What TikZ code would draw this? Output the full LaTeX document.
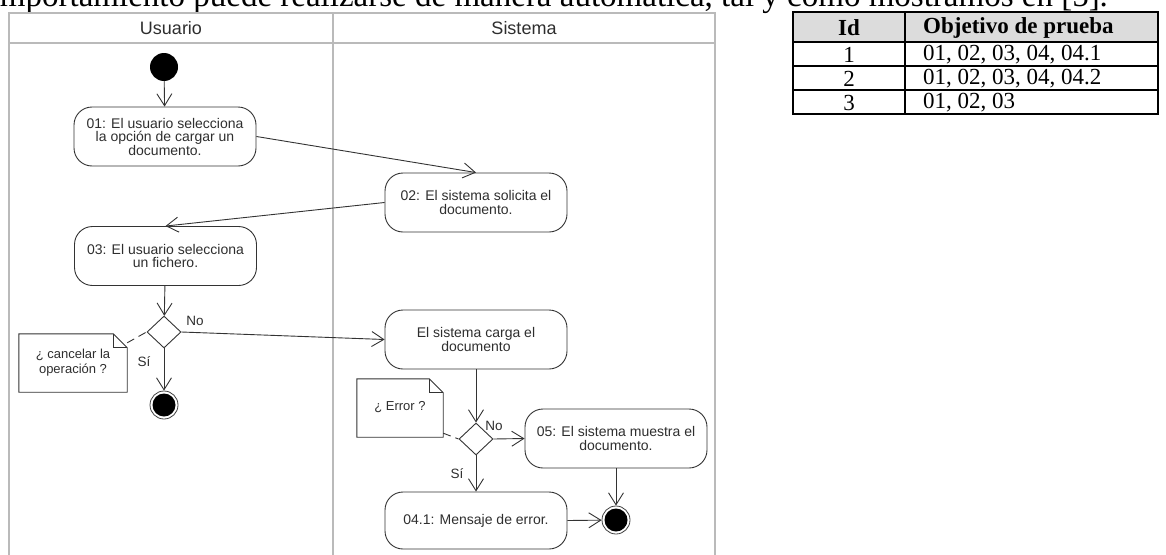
\documentclass[tikz,border=0pt]{standalone}
\usepackage{fontspec}
\setmainfont{Liberation Serif}
\setsansfont{Liberation Sans}
\usetikzlibrary{arrows.meta,shapes.geometric}
\definecolor{linec}{HTML}{333333}
\definecolor{textc}{HTML}{2E2E2E}
\definecolor{lanec}{HTML}{BABABA}
\definecolor{headc}{HTML}{DCDCDC}
\begin{document}
\begin{tikzpicture}[x=1pt,y=-1pt,
  act/.style={draw=linec, line width=0.9pt, rounded corners=18pt, minimum width=182pt, minimum height=59pt, align=center, inner sep=0pt, text=textc, font=\sffamily\fontsize{14}{13.5}\selectfont},
  arr/.style={draw=linec, line width=0.9pt, -{Straight Barb[length=12pt,width=15pt,line width=0.9pt]}},
  dashc/.style={draw=linec, line width=0.9pt, dash pattern=on 8pt off 5pt},
  dec/.style={diamond, draw=linec, line width=0.9pt, minimum width=34pt, minimum height=32pt, inner sep=0pt, aspect=1},
  startn/.style={circle, fill=black, minimum size=28pt, inner sep=0pt},
  endn/.style={circle, draw=black!75, line width=0.8pt, minimum size=28pt, inner sep=0pt, path picture={\fill[black] (path picture bounding box.center) circle (11.5pt);}},
  notebox/.style={minimum width=#1, minimum height=58pt, inner sep=0pt, align=center, text=textc, font=\sffamily\fontsize{13}{15}\selectfont},
  lbl/.style={text=textc, inner sep=0pt, font=\sffamily\fontsize{13.5}{13.5}\selectfont},
  lane/.style={draw=lanec, line width=1.5pt},
  lanehead/.style={text=textc, inner sep=0pt, font=\sffamily\fontsize{18}{18}\selectfont},
  tcell/.style={inner sep=0pt, font=\fontsize{23}{23}\selectfont},
]
\useasboundingbox (0,0) rectangle (1166,554);
\clip (0,0) rectangle (1166,554);

% body text line, cut at the top
\node[anchor=base east, inner sep=0pt, font=\fontsize{33}{33}\selectfont] (body) at (1108,6.5) {mportamiento puede realizarse de manera automática, tal y como mostramos en [5].};

% swimlanes
\draw[lane] (9,560) -- (9,13) -- (715,13) -- (715,560);
\draw[lane] (9,43) -- (715,43);
\draw[lane] (333,13) -- (333,560);
\node[lanehead] (hu) at (171,28) {Usuario};
\node[lanehead] (hs) at (524,28) {Sistema};

% table
\fill[headc] (793,12) rectangle (1158,42);
\draw[black, line width=1.4pt] (793,12) rectangle (1158,114);
\draw[black, line width=1.1pt] (793,42) -- (1158,42) (793,66) -- (1158,66) (793,90) -- (1158,90) (905,12) -- (905,114);
\node[tcell, font=\bfseries\fontsize{23}{23}\selectfont] (t0a) at (849,27.5) {Id};
\node[tcell, anchor=west, font=\bfseries\fontsize{23}{23}\selectfont] (t0b) at (923,27.5) {Objetivo de prueba};
\node[tcell] (t1a) at (849,55) {1};
\node[tcell, anchor=west] (t1b) at (923,55) {01, 02, 03, 04, 04.1};
\node[tcell] (t2a) at (849,79) {2};
\node[tcell, anchor=west] (t2b) at (923,79) {01, 02, 03, 04, 04.2};
\node[tcell] (t3a) at (849,103) {3};
\node[tcell, anchor=west] (t3b) at (923,103) {01, 02, 03};

% activity nodes
\node[startn] (start) at (164,67) {};
\node[act] (a01) at (165,136.5) {01: El usuario selecciona\\la opción de cargar un\\documento.};
\node[act] (a02) at (476,202.5) {02: El sistema solicita el\\documento.};
\node[act] (a03) at (165.5,256) {03: El usuario selecciona\\un fichero.};
\node[dec] (d1) at (164,332) {};
\node[endn] (f1) at (164,405) {};
\node[act] (carga) at (476,339.5) {El sistema carga el\\documento};
\node[dec] (d2) at (476,439) {};
\node[act] (a05) at (616,438.5) {05: El sistema muestra el\\documento.};
\node[act, minimum height=57pt] (a41) at (476,520.5) {04.1: Mensaje de error.};
\node[endn] (f2) at (616,520) {};

% notes
\node[notebox=108pt] (n1) at (73,363) {¿ cancelar la\\operación ?};
\draw[draw=linec, line width=0.9pt] (n1.north west) -- ([xshift=-14pt]n1.north east) -- ([yshift=-14pt]n1.north east) -- (n1.south east) -- (n1.south west) -- cycle;
\draw[draw=linec, line width=0.9pt] ([xshift=-14pt]n1.north east) -- ([xshift=-14pt,yshift=-14pt]n1.north east) -- ([yshift=-14pt]n1.north east);
\node[notebox=86pt] (n2) at (400,408) {\raisebox{4pt}{¿ Error ?}};
\draw[draw=linec, line width=0.9pt] (n2.north west) -- ([xshift=-14pt]n2.north east) -- ([yshift=-14pt]n2.north east) -- (n2.south east) -- (n2.south west) -- cycle;
\draw[draw=linec, line width=0.9pt] ([xshift=-14pt]n2.north east) -- ([xshift=-14pt,yshift=-14pt]n2.north east) -- ([yshift=-14pt]n2.north east);

% connectors
\draw[arr] (start) -- (a01);
\draw[arr] (a01.east) -- (a02.north);
\draw[arr] (a02.west) -- (a03.north);
\draw[arr] (a03) -- (d1);
\draw[arr] (d1.east) -- (carga.west);
\draw[arr] (d1.south) -- (f1);
\draw[dashc] ([yshift=-9pt]n1.north east) -- (d1.west);
\draw[arr] (carga) -- (d2);
\draw[arr] (d2.east) -- (a05.west);
\draw[arr] (d2.south) -- (a41.north);
\draw[arr] (a41.east) -- (f2);
\draw[arr] (a05.south) -- (f2);
\draw[dashc] ([yshift=4pt]n2.south east) -- (d2.west);

% guard labels
\node[lbl] (l1) at (195,321) {No};
\node[lbl] (l2) at (144,362) {Sí};
\node[lbl] (l3) at (494,426) {No};
\node[lbl] (l4) at (457,474) {Sí};
\end{tikzpicture}
\end{document}
